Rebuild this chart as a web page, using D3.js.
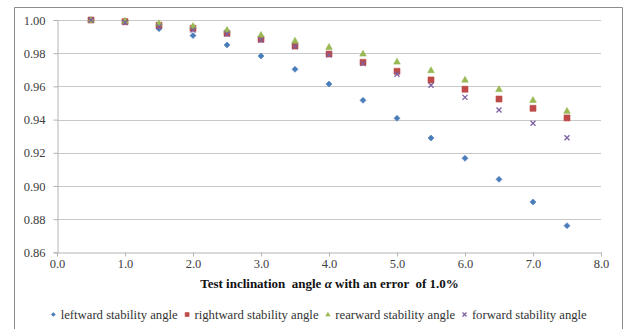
<!DOCTYPE html>
<html>
<head>
<meta charset="utf-8">
<script src="https://cdn.jsdelivr.net/npm/d3@7"></script>
<style>
  body { margin: 0; background: #fff; }
  text { font-family: "Liberation Serif", "DejaVu Serif", serif; white-space: pre; }
</style>
</head>
<body>
<div id="chart"></div>
<script>
// inclination angles (x)
const angles = [0.5, 1.0, 1.5, 2.0, 2.5, 3.0, 3.5, 4.0, 4.5, 5.0, 5.5, 6.0, 6.5, 7.0, 7.5];

// ratios
const leftward  = [1.000, 0.999, 0.9948, 0.9906, 0.985, 0.9783, 0.9703, 0.9614, 0.9516, 0.9408, 0.9289, 0.9167, 0.904, 0.8904, 0.8761];
const rightward = [1.000, 0.999, 0.9968, 0.995, 0.992, 0.9884, 0.9843, 0.9795, 0.9745, 0.9691, 0.9639, 0.9583, 0.9524, 0.9468, 0.941];
const rearward  = [1.000, 0.9995, 0.998, 0.9964, 0.994, 0.991, 0.9875, 0.9837, 0.9797, 0.9749, 0.9697, 0.964, 0.9583, 0.9518, 0.9452];
const forward   = [1.000, 0.9985, 0.996, 0.994, 0.9916, 0.988, 0.984, 0.979, 0.9737, 0.9673, 0.9607, 0.9534, 0.9458, 0.9378, 0.9291];

const seriesNames = ["leftward stability angle", "rightward stability angle", "rearward stability angle", "forward stability angle"];
const xTicks = [0, 1, 2, 3, 4, 5, 6, 7, 8];
const yTicks = [0.86, 0.88, 0.90, 0.92, 0.94, 0.96, 0.98, 1.00];

const width = 626, height = 329;
const M = { left: 57, right: 601, top: 20, bottom: 252.4 };

const series = [
  { name: seriesNames[0], values: leftward,  color: "#4a7ebb", shape: "diamond" },
  { name: seriesNames[1], values: rightward, color: "#be4b48", shape: "square" },
  { name: seriesNames[2], values: rearward,  color: "#98b954", shape: "triangle" },
  { name: seriesNames[3], values: forward,   color: "#7d60a0", shape: "cross" },
];

const x = d3.scaleLinear().domain([0, 8]).range([M.left, M.right]);
const y = d3.scaleLinear().domain([0.86, 1.00]).range([M.bottom, M.top]);

const svg = d3.select("#chart").append("svg")
  .attr("width", width)
  .attr("height", height);

// outer frame
svg.append("path")
  .attr("d", `M14.5,${height + 2}V7.5H622.5V${height + 2}`)
  .attr("fill", "none")
  .attr("stroke", "#8c8c8c")
  .attr("stroke-width", 1);

// gridlines
svg.append("g")
  .selectAll("line")
  .data(yTicks.slice(1))
  .join("line")
  .attr("x1", M.left).attr("x2", M.right)
  .attr("y1", d => Math.round(y(d)) + 0.5).attr("y2", d => Math.round(y(d)) + 0.5)
  .attr("stroke", "#c8c8c8");

// y axis
const yAxis = svg.append("g")
  .attr("transform", `translate(${M.left + 0.5},0)`)
  .call(d3.axisLeft(y).tickValues(yTicks).tickFormat(d3.format(".2f")).tickSize(4).tickPadding(8));
// x axis
const xAxis = svg.append("g")
  .attr("transform", `translate(0,${Math.round(M.bottom) + 0.5})`)
  .call(d3.axisBottom(x).tickValues(xTicks).tickFormat(d3.format(".1f")).tickSize(4).tickPadding(3));

[yAxis, xAxis].forEach(a => {
  a.attr("font-family", null);
  a.select(".domain").attr("stroke", "#b4b4b4");
  a.selectAll(".tick line").attr("stroke", "#b4b4b4");
  a.selectAll(".tick text")
    .attr("fill", "#404040")
    .attr("font-size", 12.5);
});

// axis title
const title = svg.append("text")
  .attr("x", 329.5)
  .attr("y", 288)
  .attr("text-anchor", "middle")
  .attr("font-size", 13)
  .attr("font-weight", "bold")
  .attr("fill", "#111");
title.append("tspan").text("Test inclination  angle ");
title.append("tspan").attr("font-style", "italic").text("α");
title.append("tspan").text(" with an error  of 1.0%");

// markers
const markerPath = (shape, s) => {
  if (shape === "diamond") return `M0,${-s}L${s},0L0,${s}L${-s},0Z`;
  if (shape === "square") return `M${-s},${-s}H${s}V${s}H${-s}Z`;
  if (shape === "triangle") return `M0,${-s * 1.15}L${s * 1.1},${s * 0.8}H${-s * 1.1}Z`;
  return `M${-s},${-s}L${s},${s}M${s},${-s}L${-s},${s}`;
};
const drawMarker = (g, shape, color, s) => {
  g.append("path")
    .attr("d", markerPath(shape, s))
    .attr("fill", shape === "cross" ? "none" : color)
    .attr("stroke", color)
    .attr("stroke-width", shape === "cross" ? 1.3 : 0.6);
};

series.forEach(sr => {
  const g = svg.append("g");
  sr.values.forEach((v, i) => {
    const m = g.append("g").attr("transform", `translate(${x(angles[i])},${y(v)})`);
    drawMarker(m, sr.shape, sr.color, sr.shape === "cross" ? 2.5 : 3);
  });
});

// legend
const legend = svg.append("g").attr("transform", "translate(0,319)");
let lx = 53.3;
series.forEach(sr => {
  const m = legend.append("g").attr("transform", `translate(${lx},-4.5)`);
  drawMarker(m, sr.shape, sr.color, 2);
  const t = legend.append("text")
    .attr("x", lx + 7.4)
    .attr("y", 0)
    .attr("font-size", 12.7)
    .attr("fill", "#333")
    .text(sr.name);
  lx += 7.4 + t.node().getComputedTextLength() + 9.4;
});
</script>
</body>
</html>
